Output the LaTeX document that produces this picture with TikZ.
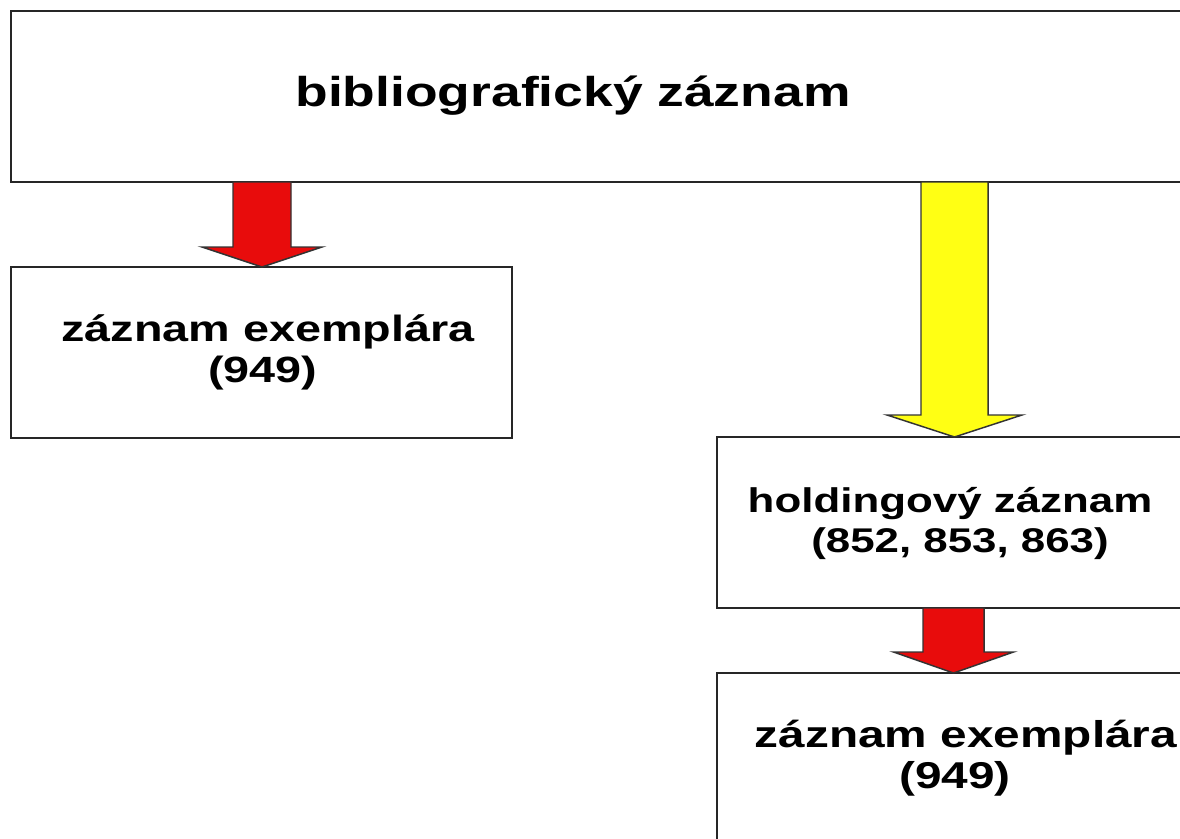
\documentclass[tikz,border=0pt]{standalone}
\usepackage{fontspec}
\newfontfamily\boxfont{Liberation Sans}[FakeStretch=1.28]
\usetikzlibrary{fit}
\definecolor{arrowred}{RGB}{232,12,12}
\definecolor{arrowyellow}{RGB}{255,255,20}
\tikzset{
  recbox/.style={draw=black!85, line width=1.5pt, fill=white, inner sep=0pt, rectangle},
  lbl/.style={anchor=base, inner sep=0pt, font=\boxfont\bfseries},
  redarrow/.style={draw=black!80, line width=1.1pt, fill=arrowred, line join=miter},
  yelarrow/.style={draw=black!80, line width=1.1pt, fill=arrowyellow, line join=miter}
}
% block arrow: center x, shaft top y, head base y, tip y, shaft half width, head half width
\newcommand{\blockarr}[7]{%
  \draw[#1] (#2-#6,#3) -- (#2-#6,#4) -- (#2-#7,#4) -- (#2,#5) -- (#2+#7,#4) -- (#2+#6,#4) -- (#2+#6,#3) -- cycle;}
\begin{document}
\begin{tikzpicture}[x=0.75pt,y=-0.75pt]
\useasboundingbox (0,0) rectangle (1180,838);
\clip (0,0) rectangle (1180,838);
\fill[white] (0,0) rectangle (1180,838);
% boxes
\node[recbox, fit={(11,11) (1220,182)}] (bib) {};
\node[recbox, fit={(11,267) (512,438)}] (item1) {};
\node[recbox, fit={(717,437) (1220,608)}] (hold) {};
\node[recbox, fit={(717,673) (1220,900)}] (item2) {};
% arrows
\blockarr{redarrow}{262}{182}{247}{267}{29}{60}
\blockarr{yelarrow}{954.5}{182}{415}{437}{33.5}{67.5}
\blockarr{redarrow}{953.5}{608}{652}{673}{30.5}{60}
% texts
\node[lbl, font=\fontsize{31.3}{36}\boxfont\bfseries] (tbib) at (573,107) {bibliografický záznam};
\node[lbl, font=\fontsize{27.4}{31}\boxfont\bfseries] (ti1a) at (268,341) {záznam exemplára};
\node[lbl, font=\fontsize{27.4}{31}\boxfont\bfseries] (ti1b) at (263,382) {(949)};
\node[lbl, font=\fontsize{25.7}{30}\boxfont\bfseries] (tha) at (950,512) {holdingový záznam};
\node[lbl, font=\fontsize{25.7}{30}\boxfont\bfseries] (thb) at (960,552) {(852, 853, 863)};
\node[lbl, font=\fontsize{28}{31}\boxfont\bfseries] (ti2a) at (966,747) {záznam exemplára};
\node[lbl, font=\fontsize{28}{31}\boxfont\bfseries] (ti2b) at (955,788) {(949)};
\end{tikzpicture}
\end{document}
